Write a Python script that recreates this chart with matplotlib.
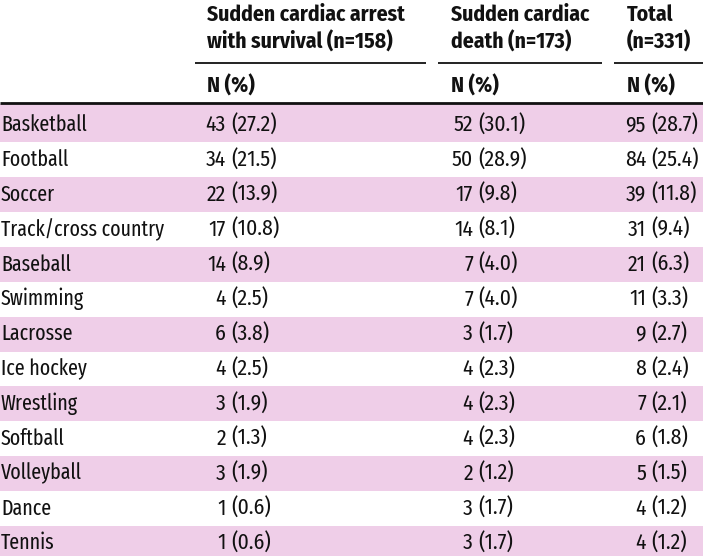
import matplotlib
matplotlib.use("Agg")
import matplotlib.pyplot as plt
from matplotlib import font_manager

# table content
sports = ["Basketball", "Football", "Soccer", "Track/cross country", "Baseball",
          "Swimming", "Lacrosse", "Ice hockey", "Wrestling", "Softball",
          "Volleyball", "Dance", "Tennis"]
survival_n = [43, 34, 22, 17, 14, 4, 6, 4, 3, 2, 3, 1, 1]
survival_pct = ["27.2", "21.5", "13.9", "10.8", "8.9", "2.5", "3.8", "2.5", "1.9", "1.3", "1.9", "0.6", "0.6"]
death_n = [52, 50, 17, 14, 7, 7, 3, 4, 4, 4, 2, 3, 3]
death_pct = ["30.1", "28.9", "9.8", "8.1", "4.0", "4.0", "1.7", "2.3", "2.3", "2.3", "1.2", "1.7", "1.7"]
total_n = [95, 84, 39, 31, 21, 11, 9, 8, 7, 6, 5, 4, 4]
total_pct = ["28.7", "25.4", "11.8", "9.4", "6.3", "3.3", "2.7", "2.4", "2.1", "1.8", "1.5", "1.2", "1.2"]

headers = ["Sudden cardiac arrest\nwith survival (n=158)",
           "Sudden cardiac\ndeath (n=173)",
           "Total\n(n=331)"]
subheader = "N (%)"

pink = "#efcee8"
ink = "#111111"


def have(name):
    try:
        font_manager.findfont(font_manager.FontProperties(family=name),
                              fallback_to_default=False)
        return True
    except Exception:
        return False


narrow = ["Fira Sans Extra Condensed", "DejaVu Sans"]
cond = ["Fira Sans Condensed", "DejaVu Sans"]
if not have("Fira Sans Extra Condensed"):
    narrow = cond
fs = 15.6

fig = plt.figure(figsize=(7.03, 5.56), dpi=100)
ax = fig.add_axes([0, 0, 1, 1])
ax.set_xlim(0, 703)
ax.set_ylim(556, 0)
ax.axis("off")

# column layout (pixels)
col_text_x = [207, 451, 627]
col_split = [226, 473, 646]   # count right edge, paren starts a bit after
col_lines = [(195, 426), (438, 602), (614, 703)]

row0 = 125
pitch = 34.85


def put(x, y, s, fam, ha="left", bold=False, size=fs, **kw):
    ax.text(x, y, s, ha=ha, va="center", fontsize=size, family=fam,
            stretch="condensed", fontweight="bold" if bold else "normal",
            color=ink, **kw)


# header
for x, h in zip(col_text_x, headers):
    put(x, 29, h, cond, bold=True, linespacing=1.3)
    put(x, 86, subheader, cond, bold=True)
for x0, x1 in col_lines:
    ax.plot([x0, x1], [62.5, 62.5], color=ink, lw=1.3, solid_capstyle="butt")
ax.plot([0, 703], [103, 103], color=ink, lw=2.0, solid_capstyle="butt")

# body rows
cols = [(survival_n, survival_pct), (death_n, death_pct), (total_n, total_pct)]
for i, sport in enumerate(sports):
    y = row0 + i * pitch
    if i % 2 == 0:
        top = 104 if i == 0 else y - pitch / 2
        ax.axhspan(top, min(y + pitch / 2, 556), color=pink, lw=0, zorder=0)
    put(1, y, sport, narrow)
    for split, (ns, ps) in zip(col_split, cols):
        put(split, y, str(ns[i]), cond, ha="right")
        put(split + 5, y, "(" + ps[i] + ")", cond)

fig.savefig("out.png", dpi=100)
